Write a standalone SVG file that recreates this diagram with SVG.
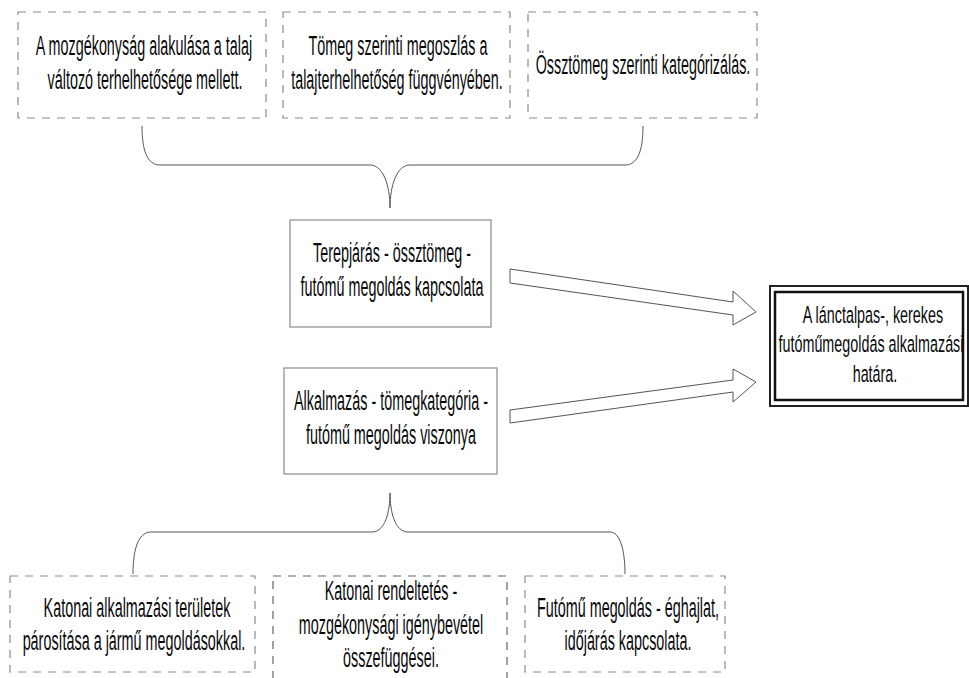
<svg xmlns="http://www.w3.org/2000/svg" width="969" height="678" viewBox="0 0 969 678">
<style>
.t{font-family:"Liberation Sans",Arial,sans-serif;font-size:28px;fill:#0a0a0a;text-anchor:middle;}
.r{font-size:24.5px;}
.dash{fill:none;stroke:#8c8c8c;stroke-width:1.2;stroke-dasharray:8 7;}
.solid{fill:none;stroke:#8a8a8a;stroke-width:1.2;}
.brace{fill:none;stroke:#555;stroke-width:1;}
.arrow{fill:#fff;stroke:#555;stroke-width:1;}
</style>
<rect width="969" height="678" fill="#fff"/>
<g id="top1">
<rect class="dash" x="18" y="12" width="248" height="106"/>
<text class="t" transform="translate(144,55) scale(0.513,1)">A mozgékonyság alakulása a talaj</text>
<text class="t" transform="translate(145,89) scale(0.513,1)">változó terhelhetősége mellett.</text>
</g>
<g id="top2">
<rect class="dash" x="283" y="12" width="227" height="106"/>
<text class="t" transform="translate(398,55) scale(0.513,1)">Tömeg szerinti megoszlás a</text>
<text class="t" transform="translate(397,89) scale(0.513,1)">talajterhelhetőség függvényében.</text>
</g>
<g id="top3">
<rect class="dash" x="528" y="12" width="229" height="106"/>
<text class="t" transform="translate(643,74) scale(0.513,1)">Össztömeg szerinti kategórizálás.</text>
</g>
<g id="mid1">
<rect class="solid" x="290" y="220" width="201" height="107"/>
<text class="t" transform="translate(392,262) scale(0.513,1)">Terepjárás - össztömeg -</text>
<text class="t" transform="translate(392,296) scale(0.513,1)">futómű megoldás kapcsolata</text>
</g>
<g id="mid2">
<rect class="solid" x="284" y="368" width="213" height="106"/>
<text class="t" transform="translate(391,410) scale(0.513,1)">Alkalmazás - tömegkategória -</text>
<text class="t" transform="translate(391,444) scale(0.513,1)">futómű megoldás viszonya</text>
</g>
<g id="result">
<rect x="770" y="286" width="198" height="120" fill="#fff" stroke="#222" stroke-width="2"/>
<rect x="775" y="292" width="188" height="108" fill="none" stroke="#111" stroke-width="2.5"/>
<text class="t r" transform="translate(873,323) scale(0.586,1)">A lánctalpas-, kerekes</text>
<text class="t r" transform="translate(871,352) scale(0.586,1)">futóműmegoldás alkalmazási</text>
<text class="t r" transform="translate(875,382) scale(0.586,1)">határa.</text>
</g>
<g id="bot1">
<rect class="dash" x="10" y="576" width="245" height="96"/>
<text class="t" transform="translate(137,617) scale(0.513,1)">Katonai alkalmazási területek</text>
<text class="t" transform="translate(134,650) scale(0.513,1)">párosítása a jármű megoldásokkal.</text>
</g>
<g id="bot2">
<rect class="dash" x="273" y="576" width="234" height="110" style="stroke:#666"/>
<text class="t" transform="translate(391,600) scale(0.513,1)">Katonai rendeltetés -</text>
<text class="t" transform="translate(391,634) scale(0.513,1)">mozgékonysági igénybevétel</text>
<text class="t" transform="translate(391,667) scale(0.513,1)">összefüggései.</text>
</g>
<g id="bot3">
<rect class="dash" x="525" y="576" width="200" height="96"/>
<text class="t" transform="translate(628,617) scale(0.513,1)">Futómű megoldás - éghajlat,</text>
<text class="t" transform="translate(628,650) scale(0.513,1)">időjárás kapcsolata.</text>
</g>
<g id="connectors">
<path class="brace" d="M142,126 C142,150 147,165 160,165 L370,165 C383,165 390,185 390,208 C390,185 397,165 410,165 L625,165 C638,165 643,150 643,126"/>
<path class="brace" d="M133,574 C133,550 138,532 151,532 L372,532 C385,532 390,512 390,493 C390,512 395,532 408,532 L610,532 C620,532 625,550 625,574"/>
<polygon class="arrow" points="510,269 733,302 733,291 756,312 733,325 733,315 510,283"/>
<polygon class="arrow" points="510,410 733,380 733,369 756,382 733,402 733,392 510,423"/>
</g>
</svg>
